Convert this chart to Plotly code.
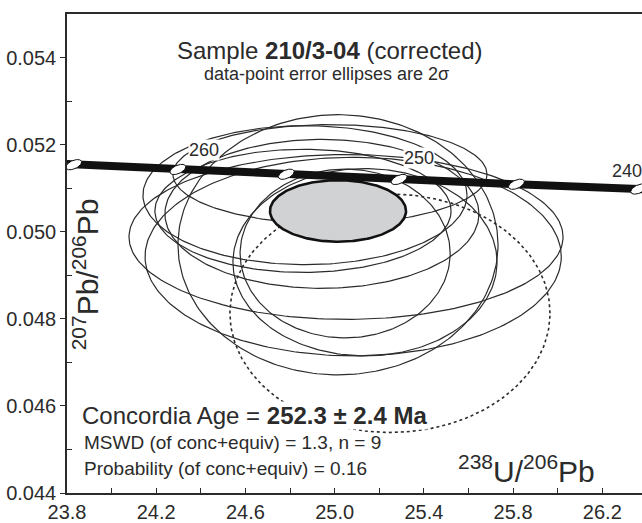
import numpy as np
import plotly.graph_objects as go

# ---------------- data ----------------
# concordia reference points (age in Ma, 238U/206Pb, 207Pb/206Pb)
conc_age = [270, 265, 260, 255, 250, 245, 240, 235]
conc_x = [23.379, 23.830, 24.297, 24.783, 25.289, 25.815, 26.363, 26.934]
conc_y = [0.05165, 0.05154, 0.05143, 0.05132, 0.05120, 0.05109, 0.05098, 0.05087]
labelled_ages = [260, 250, 240]

# data-point 2-sigma error ellipses (centre and semi-axes)
ell_x = [25.015, 24.867, 24.858, 24.979, 25.051, 25.083, 25.136, 25.047, 24.943]
ell_y = [0.04970, 0.05084, 0.05048, 0.05132, 0.04988, 0.04943, 0.04930, 0.04950, 0.05041]
ell_sx = [0.7175, 0.7265, 0.664, 0.704, 0.973, 0.933, 0.592, 0.471, 0.704]
ell_sy = [0.002987, 0.001596, 0.001414, 0.00114, 0.001893, 0.00228, 0.00215, 0.001938, 0.00171]

# rejected point (dotted)
rej_x, rej_y, rej_sx, rej_sy = 25.248, 0.048128, 0.7175, 0.002737

# concordia age ellipse
age_x, age_y, age_sx, age_sy = 25.015, 0.050477, 0.305, 0.000707

x_ticks = [23.8, 24.2, 24.6, 25.0, 25.4, 25.8, 26.2]
y_ticks = [0.044, 0.046, 0.048, 0.050, 0.052, 0.054]
x_range = [23.8, 26.378]
y_range = [0.044, 0.055]

# ---------------- layout geometry ----------------
W, H = 642, 523
ML, MR, MT, MB = 67, 0, 14, 27
PW, PH = W - ML - MR, H - MT - MB
kx = PW / (x_range[1] - x_range[0])
ky = PH / (y_range[1] - y_range[0])

INK = "#2b2b2b"
FONT = "Liberation Sans, Arial, Helvetica, sans-serif"

t = np.linspace(0, 2 * np.pi, 241)


def ellipse(cx, cy, sx, sy):
    return cx + sx * np.cos(t), cy + sy * np.sin(t)


fig = go.Figure()

for cx, cy, sx, sy in zip(ell_x, ell_y, ell_sx, ell_sy):
    ex, ey = ellipse(cx, cy, sx, sy)
    fig.add_trace(go.Scatter(x=ex, y=ey, mode="lines",
                             line=dict(color=INK, width=1.2),
                             hoverinfo="skip", showlegend=False))

ex, ey = ellipse(rej_x, rej_y, rej_sx, rej_sy)
fig.add_trace(go.Scatter(x=ex, y=ey, mode="lines",
                         line=dict(color=INK, width=1.6, dash="dot"),
                         hoverinfo="skip", showlegend=False))

ex, ey = ellipse(age_x, age_y, age_sx, age_sy)
fig.add_trace(go.Scatter(x=ex, y=ey, mode="lines", fill="toself",
                         fillcolor="#d1d2d4",
                         line=dict(color="#111111", width=2.6),
                         hoverinfo="skip", showlegend=False))

# concordia band
fig.add_trace(go.Scatter(x=conc_x, y=conc_y, mode="lines",
                         line=dict(color="#111111", width=8),
                         hoverinfo="skip", showlegend=False))

# age markers (small white ellipses drawn in pixel space)
a_px, b_px, ang = 8.5, 4.2, np.deg2rad(24)
for cx, cy in zip(conc_x, conc_y):
    dx = a_px * np.cos(ang) * np.cos(t) - b_px * np.sin(ang) * np.sin(t)
    dy = a_px * np.sin(ang) * np.cos(t) + b_px * np.cos(ang) * np.sin(t)
    fig.add_trace(go.Scatter(x=cx + dx / kx, y=cy + dy / ky, mode="lines",
                             fill="toself", fillcolor="white",
                             line=dict(color="#111111", width=1),
                             hoverinfo="skip", showlegend=False))

# age labels
label_shift = {260: (26, 19), 250: (20, 21), 240: (-12, 18)}
for age in labelled_ages:
    i = conc_age.index(age)
    sx_, sy_ = label_shift[age]
    fig.add_annotation(x=conc_x[i], y=conc_y[i], xref="x", yref="y",
                       text=str(age), showarrow=False, xshift=sx_, yshift=sy_,
                       bgcolor="white", borderpad=0,
                       font=dict(size=18, color=INK, family=FONT))


def px(xp):
    return (xp - ML) / PW


def py(yp):
    return (H - MB - yp) / PH


texts = [
    ("Sample <b>210/3-04</b> (corrected)", 330, 51, 24, "center", None),
    ("data-point error ellipses are 2σ", 326, 74, 18, "center", None),
    ("Concordia Age = <b>252.3 ± 2.4 Ma</b>", 81, 418, 24, "left", "white"),
    ("MSWD (of conc+equiv) = 1.3, n = 9", 83, 445, 19, "left", None),
    ("Probability (of conc+equiv) = 0.16", 83, 471, 19, "left", None),
]
for txt, xx, yy, fs, anc, bg in texts:
    fig.add_annotation(x=px(xx), y=py(yy), xref="paper", yref="paper",
                       text=txt, showarrow=False, xanchor=anc, yanchor="middle",
                       bgcolor=bg if bg else "rgba(0,0,0,0)", borderpad=0,
                       font=dict(size=fs, color=INK, family=FONT))

fig.add_annotation(x=px(597), y=py(472), xref="paper", yref="paper",
                   text="<sup>238</sup>U/<sup>206</sup>Pb", showarrow=False,
                   xanchor="right", yanchor="middle",
                   font=dict(size=30, color=INK, family=FONT))
fig.add_annotation(x=px(86), y=py(276), xref="paper", yref="paper",
                   text="<sup>207</sup>Pb/<sup>206</sup>Pb", showarrow=False,
                   textangle=-90, xanchor="center", yanchor="middle",
                   font=dict(size=30, color=INK, family=FONT))

fig.update_layout(
    width=W, height=H,
    margin=dict(l=ML, r=MR, t=MT, b=MB, pad=0),
    paper_bgcolor="white", plot_bgcolor="white",
    font=dict(family=FONT, color=INK, size=20),
    showlegend=False,
    xaxis=dict(range=x_range, tickvals=x_ticks,
               ticktext=[f"{v:.1f}" for v in x_ticks],
               ticks="inside", ticklen=5, tickwidth=1.2, tickcolor=INK,
               showline=True, linecolor=INK, linewidth=1.6, mirror=True,
               showgrid=False, zeroline=False,
               tickfont=dict(size=20, color=INK, family=FONT),
               minor=dict(tickvals=[24.0, 24.4, 24.8, 25.2, 25.6, 26.0],
                          ticks="inside", ticklen=5, tickwidth=1.2,
                          tickcolor=INK, showgrid=False)),
    yaxis=dict(range=y_range, tickvals=y_ticks,
               ticktext=[f"{v:.3f}" for v in y_ticks],
               ticks="outside", ticklen=5, tickwidth=1.2, tickcolor=INK,
               showline=True, linecolor=INK, linewidth=1.6, mirror=False,
               showgrid=False, zeroline=False,
               tickfont=dict(size=20, color=INK, family=FONT),
               minor=dict(tickvals=[0.045, 0.047, 0.049, 0.051, 0.053],
                          ticks="inside", ticklen=5, tickwidth=1.2,
                          tickcolor=INK, showgrid=False)),
)

fig.write_html("out.html")
